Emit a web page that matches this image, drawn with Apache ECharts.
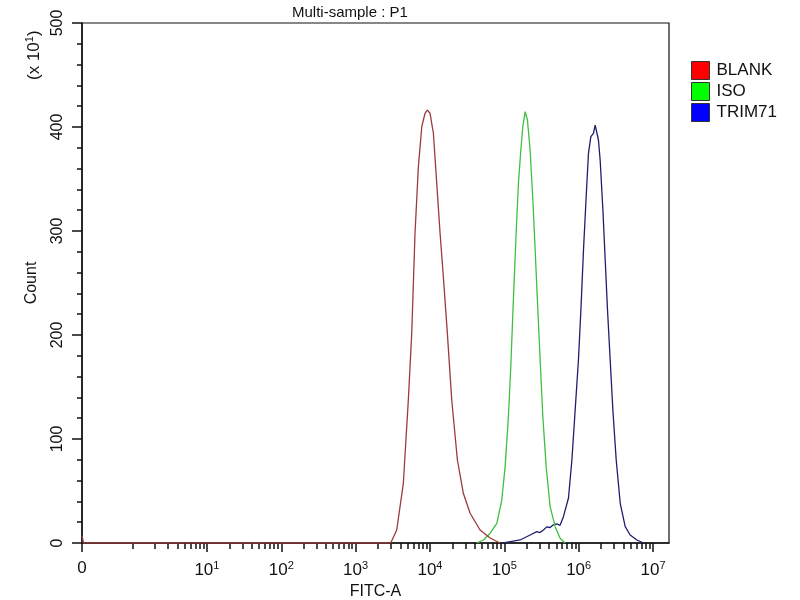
<!DOCTYPE html>
<html>
<head>
<meta charset="utf-8">
<script src="https://cdn.jsdelivr.net/npm/echarts@6/dist/echarts.min.js"></script>
<style>html,body{margin:0;padding:0;background:#fff}#c{width:800px;height:600px}</style>
</head>
<body>
<div id="c"></div>
<script>
// x values are positions in decades (log10 of FITC-A); the "0" origin sits at -0.68
const seriesNames = ['BLANK', 'ISO', 'TRIM71'];
const blankX = [-0.68, -0.66, 3.472, 3.553, 3.642, 3.709, 3.755, 3.799, 3.844, 3.890, 3.934, 3.965, 4.001, 4.046, 4.091, 4.136, 4.180, 4.234, 4.293, 4.369, 4.449, 4.540, 4.674, 4.809, 4.943];
const blankY = [7, 0, 0, 12.5, 57.4, 137.5, 201.6, 297.8, 361.8, 400.3, 413.2, 416.3, 413.2, 394, 345.9, 297.8, 256, 201.6, 137.5, 79.8, 47.8, 28.6, 12.5, 4.8, 0];
const isoX = [4.630, 4.719, 4.809, 4.899, 4.966, 5.011, 5.055, 5.087, 5.122, 5.159, 5.190, 5.222, 5.249, 5.280, 5.311, 5.347, 5.384, 5.415, 5.445, 5.482, 5.518, 5.563, 5.616, 5.684, 5.751, 5.818];
const isoY = [0, 2.9, 9.3, 18.9, 41.3, 73.4, 121.4, 169.5, 233.7, 297.8, 345.9, 377.9, 400.3, 414.7, 406.7, 377.9, 329.8, 281.7, 233.7, 176, 121.4, 73.4, 34.9, 15.7, 4.5, 0];
const trimX = [4.988, 5.10, 5.213, 5.347, 5.437, 5.48, 5.526, 5.57, 5.616, 5.66, 5.707, 5.75, 5.795, 5.863, 5.909, 5.953, 5.997, 6.030, 6.065, 6.101, 6.132, 6.164, 6.199, 6.222, 6.245, 6.266, 6.289, 6.326, 6.357, 6.388, 6.424, 6.460, 6.505, 6.559, 6.626, 6.693, 6.783, 6.872];
const trimY = [0, 1.5, 2.9, 7.7, 10.9, 10.0, 12.5, 15.5, 14.9, 17.5, 18.3, 17.0, 25.3, 43.3, 79.8, 127.9, 176, 224, 281.7, 333, 374.7, 390.7, 393.9, 401.9, 403.5, 387.5, 368.3, 320.2, 272.1, 224, 176, 127.9, 79.8, 38.2, 15.7, 7.7, 2.9, 0];
const lineColors = ['#9a3a3a', '#3fbf3f', '#1e1e6e'];
const legendColors = ['#ff0000', '#00ff00', '#0000ff'];
const xTickValues = [-0.68, 1, 2, 3, 4, 5, 6, 7];
const xTickExponents = ['', '1', '2', '3', '4', '5', '6', '7'];

const minorX = [];
for (let n = 0; n <= 6; n++) {
  if (n === 0) minorX.push(0);
  for (let k = 2; k <= 9; k++) minorX.push(n + Math.log10(k));
}

function pairs(xs, ys) { return xs.map((x, i) => [x, ys[i]]); }
const dataSets = [pairs(blankX, blankY), pairs(isoX, isoY), pairs(trimX, trimY)];

const chart = echarts.init(document.getElementById('c'), null, {renderer: 'canvas'});
const font = 'Liberation Sans, Arial, sans-serif';
chart.setOption({
  animation: false,
  textStyle: {fontFamily: font},
  title: {
    text: 'Multi-sample : P1', left: 287, top: 0,
    textStyle: {fontSize: 15, fontWeight: 'normal', color: '#111', fontFamily: font}
  },
  grid: {left: 82, right: 131, top: 23, bottom: 57, outerBoundsMode: 'none', containLabel: false,
    show: true, borderColor: '#111', borderWidth: 1.2, backgroundColor: 'transparent'},
  legend: {
    orient: 'vertical', left: 686, top: 56, itemWidth: 18, itemHeight: 18, itemGap: 2,
    icon: 'rect',
    textStyle: {fontSize: 17, color: '#111', fontFamily: font, padding: [0, 0, 0, 2]},
    data: seriesNames.map((n, i) => ({name: n, itemStyle: {color: legendColors[i], borderColor: '#333', borderWidth: 1}}))
  },
  xAxis: [{
    type: 'value', min: -0.68, max: 7.215,
    name: 'FITC-A', nameLocation: 'middle', nameGap: 41,
    nameTextStyle: {fontSize: 16, color: '#111', fontFamily: font},
    axisLine: {show: true, onZero: false, lineStyle: {color: '#111', width: 1.5}},
    splitLine: {show: false},
    axisTick: {show: true, length: 9, lineStyle: {color: '#111', width: 1.5}, customValues: xTickValues},
    axisLabel: {
      customValues: xTickValues, margin: 17, color: '#111', fontSize: 17, fontFamily: font,
      formatter: function (v) {
        const i = xTickValues.findIndex(t => Math.abs(t - v) < 1e-6);
        if (i <= 0) return '0';
        return '10{s|' + xTickExponents[i] + '}';
      },
      rich: {s: {fontSize: 11, padding: [0, 0, 9, 0], color: '#111', fontFamily: font}}
    }
  }, {
    type: 'value', min: -0.68, max: 7.215, position: 'bottom',
    axisLine: {show: false, onZero: false}, splitLine: {show: false}, axisLabel: {show: false},
    axisTick: {show: true, length: 6, lineStyle: {color: '#111', width: 1.5}, customValues: minorX}
  }],
  yAxis: {
    type: 'value', min: 0, max: 500, interval: 100,
    name: 'Count', nameLocation: 'middle', nameGap: 42, nameRotate: 90,
    nameTextStyle: {fontSize: 16, color: '#111', fontFamily: font},
    axisLine: {show: true, onZero: false, lineStyle: {color: '#111', width: 1.5}},
    splitLine: {show: false},
    axisTick: {show: true, length: 10, lineStyle: {color: '#111', width: 1.5}},
    minorTick: {show: true, splitNumber: 5, length: 5, lineStyle: {color: '#111', width: 1.5}},
    axisLabel: {rotate: 90, margin: 16, color: '#111', fontSize: 16, fontFamily: font}
  },
  graphic: [{
    type: 'text', x: 24, y: 80, rotation: Math.PI / 2,
    style: {
      text: '(x 10{s|1})', fontSize: 17, fill: '#111', fontFamily: font,
      rich: {s: {fontSize: 11, padding: [0, 0, 9, 0], fill: '#111', fontFamily: font}}
    }
  }],
  series: seriesNames.map((n, i) => ({
    name: n, type: 'line', data: dataSets[i], xAxisIndex: 0,
    showSymbol: false, symbol: 'none', color: lineColors[i],
    lineStyle: {width: 1.3, color: lineColors[i]}, z: 3 - i
  }))
});
</script>
</body>
</html>
